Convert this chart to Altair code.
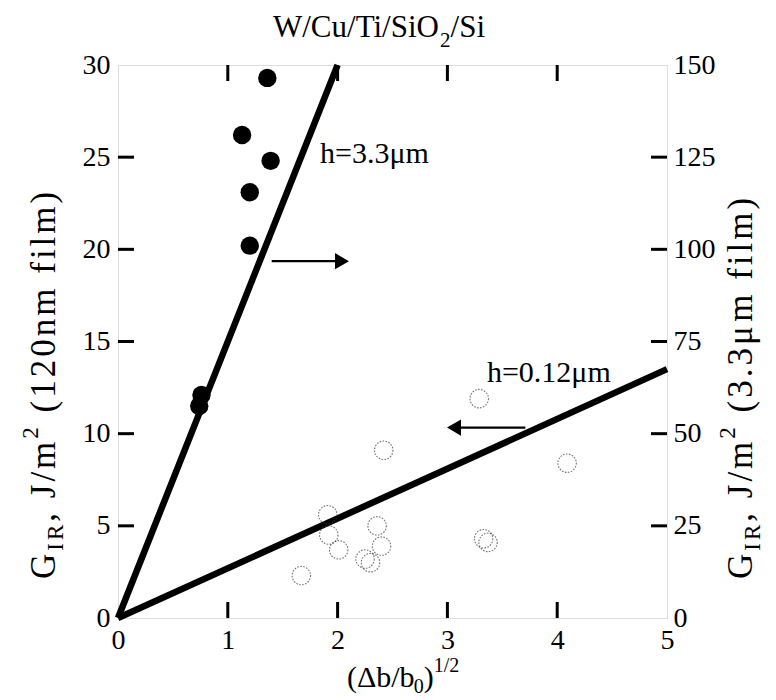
import altair as alt
import pandas as pd

# ---------------- data ----------------
open_x = [3.29, 2.42, 4.09, 1.91, 1.92, 2.01, 2.36, 2.40, 2.25, 2.30, 1.67, 3.33, 3.37]
open_y = [11.9, 9.1, 8.4, 5.6, 4.5, 3.7, 5.0, 3.9, 3.2, 3.0, 2.3, 4.3, 4.1]

filled_x = [1.36, 1.13, 1.39, 1.20, 1.20, 0.76, 0.74]
filled_y = [146.5, 131.0, 124.0, 115.5, 101.0, 60.5, 57.5]

thin_fit_x = [0, 5]
thin_fit_y = [0, 13.5]          # left axis (120 nm film)
thick_fit_x = [0, 2]
thick_fit_y = [0, 150]          # right axis (3.3 um film)

x_ticks = [0, 1, 2, 3, 4, 5]
left_ticks = [0, 5, 10, 15, 20, 25, 30]
right_ticks = [0, 25, 50, 75, 100, 125, 150]
x_inner = [1, 2, 3, 4]
left_inner = [5, 10, 15, 20, 25]
right_inner = [25, 50, 75, 100, 125]

arrow_right_x = [1.40, 2.04]
arrow_right_y = [96.8, 96.8]
arrow_left_x = [3.71, 3.06]
arrow_left_y = [10.33, 10.33]

label_thick = ["h=3.3\u03bcm"]
label_thick_pos = [1.84, 24.7]
label_thin = ["h=0.12\u03bcm"]
label_thin_pos = [3.36, 12.82]

# ---------------- layout ----------------
W, H = 549, 553
FONT = "Liberation Serif"
TICK = 16
NB = "\u00a0"

AW = {' ': 250, NB: 250, '(': 333, ')': 333, ',': 250, '.': 250, '/': 278, '=': 564,
      'G': 722, 'I': 333, 'R': 667, 'J': 389, 'm': 778, 'n': 500, 'f': 333,
      'i': 278, 'l': 278, 'h': 500, 'b': 500, 'W': 944, 'C': 667, 'u': 500,
      'T': 611, 'S': 556, 'O': 722, '\u0394': 612, '\u03bc': 576}


def tw(s, size):
    return sum(AW.get(c, 500) for c in s) * size / 1000.0


xscale = alt.Scale(domain=[0, 5], nice=False, zero=False)
lscale = alt.Scale(domain=[0, 30], nice=False, zero=False)
rscale = alt.Scale(domain=[0, 150], nice=False, zero=False)

axis_x = alt.Axis(values=x_ticks, title=None, ticks=False, domain=False, grid=False,
                  labelFont=FONT, labelFontSize=28, labelColor="black", labelPadding=8,
                  labelFlush=False, labelOverlap=False, format="d")
axis_l = alt.Axis(values=left_ticks, title=None, ticks=False, domain=False, grid=False,
                  orient="left", labelFont=FONT, labelFontSize=28, labelColor="black",
                  labelPadding=8, labelOverlap=False, format="d")
axis_r = alt.Axis(values=right_ticks, title=None, ticks=False, domain=False, grid=False,
                  orient="right", labelFont=FONT, labelFontSize=28, labelColor="black",
                  labelPadding=6, labelOverlap=False, format="d")


def X(f):
    return alt.X(f, type="quantitative", scale=xscale, axis=axis_x)


def YL(f):
    return alt.Y(f, type="quantitative", scale=lscale, axis=axis_l)


def YR(f):
    return alt.Y(f, type="quantitative", scale=rscale, axis=axis_r)


def pieces(parts, x0, y0, rotated, spacing=0.0):
    """parts: (text, size, shift, extra_gap_after); text layers placed in pixels.
    With spacing > 0 each character is placed on its own (letter spacing)."""
    layers = []
    pos = 0.0
    for text, size, shift, gap in parts:
        units = list(text) if spacing > 0 else [text]
        for u in units:
            if rotated:
                px, py = x0 + shift, y0 - pos
                m = alt.Chart(pd.DataFrame({"t": [u]})).mark_text(
                    font=FONT, fontSize=size, angle=270, align="left",
                    baseline="alphabetic", color="black")
            else:
                px, py = x0 + pos, y0 + shift
                m = alt.Chart(pd.DataFrame({"t": [u]})).mark_text(
                    font=FONT, fontSize=size, align="left", baseline="alphabetic",
                    color="black")
            if u.strip(NB + " "):
                layers.append(m.encode(x=alt.value(px), y=alt.value(py), text="t:N"))
            pos += tw(u, size) + spacing
        pos += gap
    return layers


# ---------------- left-axis group ----------------
df_thin = pd.DataFrame({"x": thin_fit_x, "y": thin_fit_y})
df_open = pd.DataFrame({"x": open_x, "y": open_y})
df_al = pd.DataFrame({"x": [arrow_left_x[0]], "x2": [arrow_left_x[1]], "y": [arrow_left_y[0]]})
df_alh = pd.DataFrame({"x": [arrow_left_x[1]], "y": [arrow_left_y[1]]})
df_tthin = pd.DataFrame({"x": [label_thin_pos[0]], "y": [label_thin_pos[1]], "t": label_thin})
df_xin = pd.DataFrame({"x": x_inner})
df_lin = pd.DataFrame({"y": left_inner})

thin_line = alt.Chart(df_thin).mark_line(color="black", strokeWidth=6.5).encode(x=X("x"), y=YL("y"))
open_pts = alt.Chart(df_open).mark_point(shape="circle", size=340, filled=False, color="#3a3a3a",
                                         strokeWidth=1.1, strokeDash=[1.6, 1.4]).encode(x=X("x"), y=YL("y"))
al_shaft = alt.Chart(df_al).mark_rule(color="black", strokeWidth=2.2).encode(
    x=X("x"), x2="x2", y=YL("y"))
al_head = alt.Chart(df_alh).mark_point(shape="triangle-left", filled=True, size=260, color="black",
                                       opacity=1).encode(x=X("x"), y=YL("y"))
t_thin = alt.Chart(df_tthin).mark_text(font=FONT, fontSize=30, align="left", baseline="alphabetic",
                                       color="black").encode(x=X("x"), y=YL("y"), text="t:N")
xt_bottom = alt.Chart(df_xin).mark_rule(color="black", strokeWidth=3).encode(
    x=X("x"), y=alt.value(H), y2=alt.value(H - TICK))
xt_top = alt.Chart(df_xin).mark_rule(color="black", strokeWidth=3).encode(
    x=X("x"), y=alt.value(0), y2=alt.value(TICK))
lt = alt.Chart(df_lin).mark_rule(color="black", strokeWidth=3).encode(
    y=YL("y"), x=alt.value(0), x2=alt.value(TICK))

YT, YS, SP = 35, 23, 3.0
title_layers = pieces([("W/Cu/Ti/SiO", 31, 0, 0), ("2", 21, 10, 0), ("/Si", 31, 0, 0)], 155, -28, False)
xtitle_layers = pieces([("(\u0394b/b", 30, 0, 0), ("0", 20, 6, 0), (")", 30, 0, 0),
                        ("1/2", 20, -15, 0)], 229, 622, False)
ltitle_layers = pieces([("G", YT, 0, 0), ("IR", YS, 8, 0), (",", YT, 0, 0), (NB, YT, 0, 0),
                        ("J/m", YT, 0, 0), ("2", YS, -17, 0), (NB, YT, 0, 0),
                        ("(120nm", YT, 0, 0), (NB, YT, 0, 0), ("film)", YT, 0, 0)],
                       -63, 514, True, SP)
rtitle_layers = pieces([("G", YT, 0, 0), ("IR", YS, 8, 0), (",", YT, 0, 0), (NB, YT, 0, 0),
                        ("J/m", YT, 0, 0), ("2", YS, -17, 0), (NB, YT, 0, 0),
                        ("(3.3\u03bcm", YT, 0, 0), (NB, YT, 0, 0), ("film)", YT, 0, 0)],
                       634, 514, True, SP)

left = alt.layer(thin_line, open_pts, al_shaft, al_head, t_thin, xt_bottom, xt_top, lt,
                 *title_layers, *xtitle_layers, *ltitle_layers, *rtitle_layers)

# ---------------- right-axis group ----------------
df_thick = pd.DataFrame({"x": thick_fit_x, "y": thick_fit_y})
df_filled = pd.DataFrame({"x": filled_x, "y": filled_y})
df_ar = pd.DataFrame({"x": [arrow_right_x[0]], "x2": [arrow_right_x[1]], "y": [arrow_right_y[0]]})
df_arh = pd.DataFrame({"x": [arrow_right_x[1]], "y": [arrow_right_y[1]]})
df_tthick = pd.DataFrame({"x": [label_thick_pos[0]], "y": [label_thick_pos[1] * 5], "t": label_thick})
df_rin = pd.DataFrame({"y": right_inner})

thick_line = alt.Chart(df_thick).mark_line(color="black", strokeWidth=6.5).encode(x=X("x"), y=YR("y"))
filled_pts = alt.Chart(df_filled).mark_circle(size=340, color="black", opacity=1).encode(x=X("x"), y=YR("y"))
ar_shaft = alt.Chart(df_ar).mark_rule(color="black", strokeWidth=2.2).encode(
    x=X("x"), x2="x2", y=YR("y"))
ar_head = alt.Chart(df_arh).mark_point(shape="triangle-right", filled=True, size=260, color="black",
                                       opacity=1).encode(x=X("x"), y=YR("y"))
t_thick = alt.Chart(df_tthick).mark_text(font=FONT, fontSize=30, align="left", baseline="alphabetic",
                                         color="black").encode(x=X("x"), y=YR("y"), text="t:N")
rt = alt.Chart(df_rin).mark_rule(color="black", strokeWidth=3).encode(
    y=YR("y"), x=alt.value(W), x2=alt.value(W - TICK))

right = alt.layer(thick_line, filled_pts, ar_shaft, ar_head, t_thick, rt)

chart = (
    alt.layer(left, right)
    .resolve_scale(y="independent")
    .properties(width=W, height=H,
                autosize=alt.AutoSizeParams(type="none"),
                padding={"left": 110, "top": 57, "right": 100, "bottom": 80})
    .configure_view(stroke="black", strokeWidth=4)
    .configure(background="white")
)

chart.save("out.html", embed_options={"renderer": "svg", "actions": False})
